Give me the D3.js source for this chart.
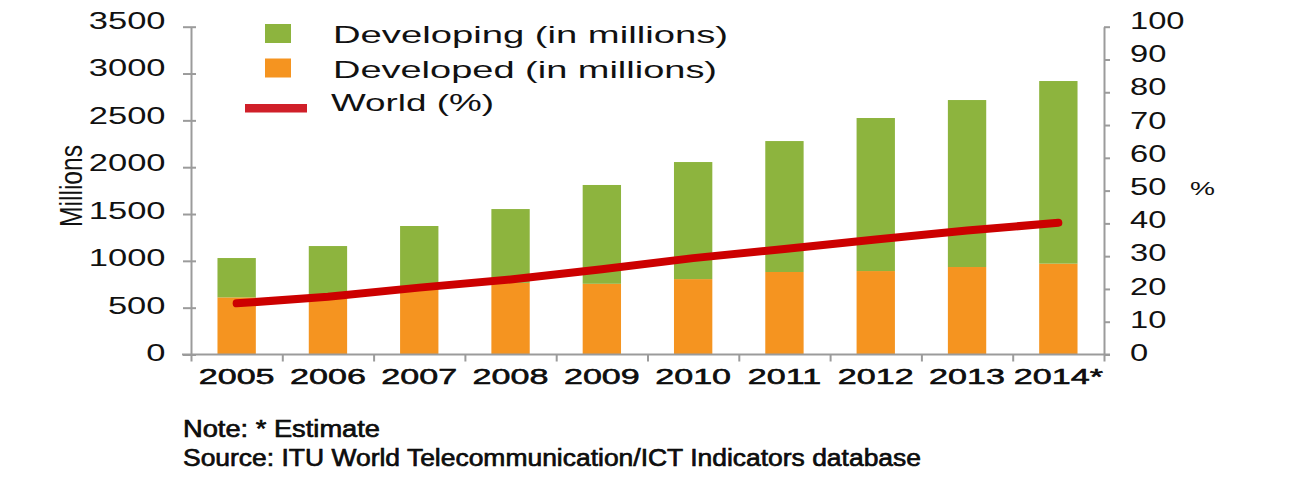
<!DOCTYPE html>
<html>
<head>
<meta charset="utf-8">
<script src="https://cdn.jsdelivr.net/npm/d3@7"></script>
<style>
  html, body { margin: 0; padding: 0; background: #fff; }
  svg { display: block; }
  text { font-family: "Liberation Sans", Arial, sans-serif; fill: #111; }
</style>
</head>
<body>
<svg id="chart" width="1295" height="489"></svg>
<script>
// ---------- data ----------
const years = ["2005", "2006", "2007", "2008", "2009", "2010", "2011", "2012", "2013", "2014*"];
const developed  = [610, 600, 690, 765, 755, 805, 881, 891, 934, 970];
const developing = [420, 558, 682, 788, 1055, 1250, 1398, 1634, 1783, 1950];
const worldPct   = [15.6, 17.6, 20.4, 22.9, 26.0, 29.4, 32.2, 35.1, 37.8, 40.2];
const leftTicks  = [0, 500, 1000, 1500, 2000, 2500, 3000, 3500];
const rightTicks = [0, 10, 20, 30, 40, 50, 60, 70, 80, 90, 100];
const seriesNames = ["Developing (in millions)", "Developed (in millions)", "World (%)"];
const noteLines = ["Note: * Estimate", "Source: ITU World Telecommunication/ICT Indicators database"];

// ---------- layout ----------
const svg = d3.select("#chart");
const X0 = 191, X1 = 1104, Y0 = 354.5, Y1 = 26.7;
const axisColor = "#9b9b9b";
const cGreen = "#8db43e", cOrange = "#f59420", cRed = "#cc0000";

const x = d3.scaleBand().domain(years).range([X0, X1]).paddingInner(0.58).paddingOuter(0.29);
const xEdge = d3.scaleLinear().domain([0, years.length]).range([X0, X1]);
const y = d3.scaleLinear().domain([0, 3500]).range([Y0, Y1]);
const y2 = d3.scaleLinear().domain([0, 100]).range([Y0, Y1]);

// stretch a text horizontally by factor s (keeps anchoring)
function stretch(sel, s) {
  sel.each(function () {
    const len = this.getComputedTextLength();
    d3.select(this).attr("textLength", len * s).attr("lengthAdjust", "spacingAndGlyphs");
  });
}

// ---------- bars ----------
const g = svg.append("g");
g.selectAll("rect.dev").data(years).join("rect")
  .attr("class", "dev")
  .attr("x", d => x(d)).attr("width", x.bandwidth())
  .attr("y", (d, i) => y(developed[i]))
  .attr("height", (d, i) => y(0) - y(developed[i]))
  .attr("fill", cOrange);
g.selectAll("rect.dvg").data(years).join("rect")
  .attr("class", "dvg")
  .attr("x", d => x(d)).attr("width", x.bandwidth())
  .attr("y", (d, i) => y(developed[i] + developing[i]))
  .attr("height", (d, i) => y(developed[i]) - y(developed[i] + developing[i]))
  .attr("fill", cGreen);

// ---------- axes ----------
// left
const gl = svg.append("g").attr("transform", `translate(${X0},0)`)
  .call(d3.axisLeft(y).tickValues(leftTicks).tickFormat(d3.format("d")).tickSizeInner(8).tickSizeOuter(0).tickPadding(17.5));
gl.select(".domain").attr("stroke", axisColor).attr("stroke-width", 2);
gl.selectAll(".tick line").attr("stroke", axisColor).attr("stroke-width", 2).attr("x1", 5);
gl.selectAll(".tick text").attr("font-size", 23).attr("dy", d => (0.32 * 23 - 1.2 - 4.5 * d / 3500) + "px")
  .attr("font-family", "Liberation Sans, Arial, sans-serif").attr("fill", "#111");
stretch(gl.selectAll(".tick text"), 1.5);

// right
const gr = svg.append("g").attr("transform", `translate(${X1},0)`)
  .call(d3.axisRight(y2).tickValues(rightTicks).tickFormat(d3.format("d")).tickSizeInner(6).tickSizeOuter(0).tickPadding(20));
gr.select(".domain").attr("stroke", axisColor).attr("stroke-width", 2);
gr.selectAll(".tick line").attr("stroke", axisColor).attr("stroke-width", 2);
gr.selectAll(".tick text").attr("font-size", 23).attr("dy", d => (0.32 * 23 - 1.2 - 4.5 * d / 100) + "px")
  .attr("font-family", "Liberation Sans, Arial, sans-serif").attr("fill", "#111");
stretch(gr.selectAll(".tick text"), 1.42);

// bottom: tick marks at category edges
const gb = svg.append("g").attr("transform", `translate(0,${Y0})`)
  .call(d3.axisBottom(xEdge).tickValues(d3.range(0, years.length + 1)).tickFormat("").tickSizeInner(7).tickSizeOuter(0));
gb.select(".domain").attr("stroke", axisColor).attr("stroke-width", 2).attr("d", `M${X0 - 9},0H${X1 + 6}`);
gb.selectAll(".tick line").attr("stroke", axisColor).attr("stroke-width", 2);

// bottom: labels at band centres
const gbl = svg.append("g").attr("transform", `translate(0,${Y0})`)
  .call(d3.axisBottom(x).tickSize(0).tickPadding(14));
gbl.select(".domain").remove();
gbl.selectAll(".tick text").attr("font-size", 22)
  .attr("font-family", "Liberation Sans, Arial, sans-serif").attr("fill", "#000")
  .attr("stroke", "#000").attr("stroke-width", 0.5);
stretch(gbl.selectAll(".tick text"), 1.55);

// ---------- line ----------
const line = d3.line().x((d, i) => x(years[i]) + x.bandwidth() / 2).y(d => y2(d));
svg.append("path").datum(worldPct)
  .attr("d", line).attr("fill", "none")
  .attr("stroke", cRed).attr("stroke-width", 8)
  .attr("stroke-linecap", "round").attr("stroke-linejoin", "round");

// ---------- axis titles ----------
svg.append("text").text("Millions")
  .attr("transform", "translate(81.5,186) scale(1.4,1) rotate(-90)")
  .attr("text-anchor", "middle").attr("font-size", 23)
  .attr("textLength", 82).attr("lengthAdjust", "spacingAndGlyphs");
svg.append("text").text("%")
  .attr("x", 1190).attr("y", 195).attr("font-size", 18)
  .attr("textLength", 25).attr("lengthAdjust", "spacingAndGlyphs");

// ---------- legend ----------
const lg = svg.append("g");
const legendColors = [cGreen, cOrange];
lg.selectAll("rect").data(legendColors).join("rect")
  .attr("x", 265).attr("width", 26)
  .attr("y", (d, i) => i === 0 ? 24 : 58.5).attr("height", 19)
  .attr("fill", d => d);
lg.append("line").attr("x1", 245).attr("x2", 307).attr("y1", 108.3).attr("y2", 108.3)
  .attr("stroke", "#d01f29").attr("stroke-width", 8.5);
const legendTextX = [333, 333, 331];
const legendTextY = [42.7, 77.7, 111];
const legendTextW = [395, 384, 163];
lg.selectAll("text").data(seriesNames).join("text")
  .text(d => d)
  .attr("x", (d, i) => legendTextX[i]).attr("y", (d, i) => legendTextY[i])
  .attr("font-size", 24).attr("fill", "#1a1a1a")
  .attr("textLength", (d, i) => legendTextW[i]).attr("lengthAdjust", "spacingAndGlyphs");

// ---------- notes ----------
const noteY = [436.7, 466];
const noteW = [197, 738];
svg.selectAll("text.note").data(noteLines).join("text")
  .attr("class", "note").text(d => d)
  .attr("x", 183).attr("y", (d, i) => noteY[i])
  .attr("font-size", 23).attr("fill", "#000")
  .attr("stroke", "#000").attr("stroke-width", 0.6)
  .style("font-family", "'Liberation Sans Narrow', 'Liberation Sans', Arial, sans-serif")
  .attr("textLength", (d, i) => noteW[i]).attr("lengthAdjust", "spacingAndGlyphs");
</script>
</body>
</html>
